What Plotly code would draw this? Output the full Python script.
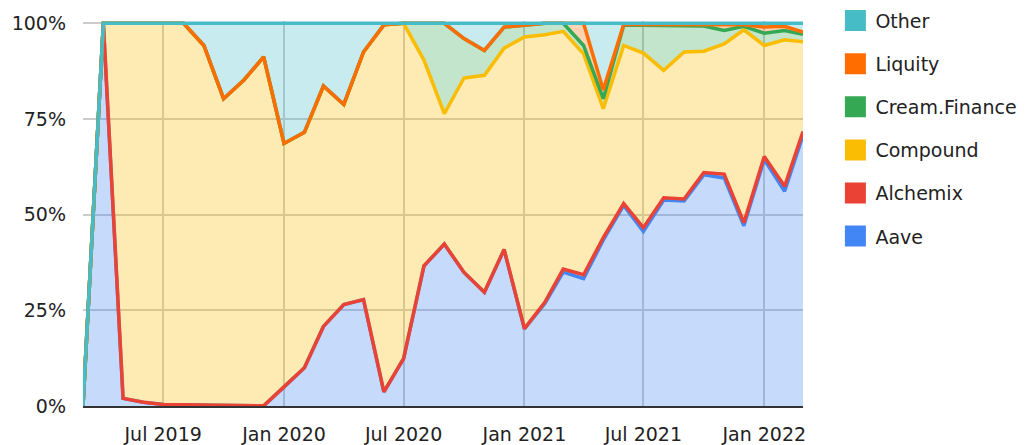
import plotly.graph_objects as go

months = [
    "2019-03-01", "2019-04-01", "2019-05-01", "2019-06-01", "2019-07-01", "2019-08-01",
    "2019-09-01", "2019-10-01", "2019-11-01", "2019-12-01", "2020-01-01", "2020-02-01",
    "2020-03-01", "2020-04-01", "2020-05-01", "2020-06-01", "2020-07-01", "2020-08-01",
    "2020-09-01", "2020-10-01", "2020-11-01", "2020-12-01", "2021-01-01", "2021-02-01",
    "2021-03-01", "2021-04-01", "2021-05-01", "2021-06-01", "2021-07-01", "2021-08-01",
    "2021-09-01", "2021-10-01", "2021-11-01", "2021-12-01", "2022-01-01", "2022-02-01",
    "2022-03-01",
]

# share of total, percent
aave = [0, 100, 2.0, 1.0, 0.4, 0.3, 0.2, 0.1, 0.05, 0.05, 5.0, 10.0,
        20.8, 26.5, 27.8, 3.7, 12.4, 36.6, 42.3, 34.9, 29.7, 40.9, 20.2, 26.8,
        35.0, 33.3, 43.4, 52.4, 45.6, 53.8, 53.6, 60.4, 59.6, 47.1, 64.4, 56.1,
        70.7]
alchemix = [0, 0, 0, 0, 0, 0, 0, 0, 0, 0, 0, 0,
            0, 0, 0, 0, 0, 0, 0, 0, 0, 0, 0, 0.3,
            0.8, 1.0, 0.6, 0.5, 1.0, 0.6, 0.5, 0.6, 1.0, 0.8, 0.8, 1.3,
            1.0]
compound = [0, 0, 98.0, 99.0, 99.6, 99.7, 94.0, 80.2, 85.15, 91.15, 63.6, 61.5,
            62.8, 52.3, 64.7, 95.9, 87.6, 53.8, 34.1, 50.8, 56.7, 52.6, 76.2, 69.9,
            62.1, 57.7, 33.7, 41.3, 45.6, 33.3, 38.4, 31.7, 34.0, 50.4, 29.0, 38.3,
            23.5]
cream = [0, 0, 0, 0, 0, 0, 0, 0, 0, 0, 0, 0,
         0, 0, 0, 0, 0, 9.6, 23.6, 10.3, 6.5, 5.5, 3.1, 3.0,
         2.1, 2.2, 2.6, 5.3, 7.3, 11.7, 6.7, 6.6, 3.5, 0.9, 3.2, 2.4,
         1.9]
liquity = [0, 0, 0, 0, 0, 0, 0, 0, 0, 0, 0, 0,
           0, 0, 0, 0, 0, 0, 0, 0, 0, 0, 0, 0,
           0, 5.8, 2.3, 0.2, 0.2, 0.3, 0.4, 0.4, 1.4, 0.4, 1.6, 1.1,
           0.6]
other = [0, 0, 0, 0, 0, 0, 5.8, 19.7, 14.8, 8.8, 31.4, 28.5,
         16.4, 21.2, 7.5, 0.4, 0, 0, 0, 4.0, 7.1, 1.0, 0.5, 0,
         0, 0, 17.4, 0.3, 0.3, 0.3, 0.4, 0.3, 0.5, 0.4, 1.0, 0.8,
         2.3]

y_ticks = [0, 25, 50, 75, 100]
y_tick_labels = ["0%", "25%", "50%", "75%", "100%"]

series = [
    ("Aave", aave, "#4285F4", "rgba(66,133,244,0.3)"),
    ("Alchemix", alchemix, "#EA4335", "rgba(234,67,53,0.3)"),
    ("Compound", compound, "#FBBC04", "rgba(251,188,4,0.3)"),
    ("Cream.Finance", cream, "#34A853", "rgba(52,168,83,0.3)"),
    ("Liquity", liquity, "#FF6D01", "rgba(255,109,1,0.3)"),
    ("Other", other, "#46BDC6", "rgba(70,189,198,0.3)"),
]

fig = go.Figure()
for name, vals, col, fillcol in series:
    fig.add_trace(go.Scatter(
        x=months, y=vals, name=name, mode="lines", stackgroup="one",
        line=dict(color=col, width=3.5), fillcolor=fillcol, showlegend=False,
    ))
# legend entries (top of stack first)
for name, vals, col, fillcol in reversed(series):
    fig.add_trace(go.Scatter(
        x=[None], y=[None], name=name, mode="markers", legendgroup=name,
        marker=dict(symbol="square", size=16, color=col,
                    line=dict(color=col, width=5)),
        showlegend=True,
    ))

font = "'DejaVu Sans', sans-serif"
fig.update_layout(
    width=1025, height=445,
    margin=dict(l=83, r=222, t=21, b=39, autoexpand=False),
    paper_bgcolor="white", plot_bgcolor="white",
    font=dict(family=font, size=19, color="#222222"),
    showlegend=True,
    legend=dict(
        x=1.045, y=1.05, xanchor="left", yanchor="top",
        traceorder="grouped", tracegroupgap=15.4,
        font=dict(size=19, color="#222222"),
        itemsizing="trace", maxheight=440,
        bgcolor="rgba(0,0,0,0)",
    ),
    xaxis=dict(
        type="date", range=["2019-03-01", "2022-03-01"],
        tick0="2019-07-01", dtick="M6", tickformat="%b %Y",
        showgrid=True, gridcolor="#cccccc", gridwidth=1.5,
        showline=True, linecolor="#333333", linewidth=2,
        ticks="", ticklabelstandoff=10, automargin=False,
    ),
    yaxis=dict(
        range=[0, 100.6], tickmode="array", tickvals=y_ticks, ticktext=y_tick_labels,
        showgrid=True, gridcolor="#cccccc", gridwidth=1.5,
        zeroline=False, showline=False, ticks="", ticklabelstandoff=16,
        automargin=False,
    ),
    hovermode=False,
)

fig.write_html(
    "out.html",
    config={"displayModeBar": False},
    post_script="document.body.style.margin='0';document.body.style.overflow='hidden';",
)
